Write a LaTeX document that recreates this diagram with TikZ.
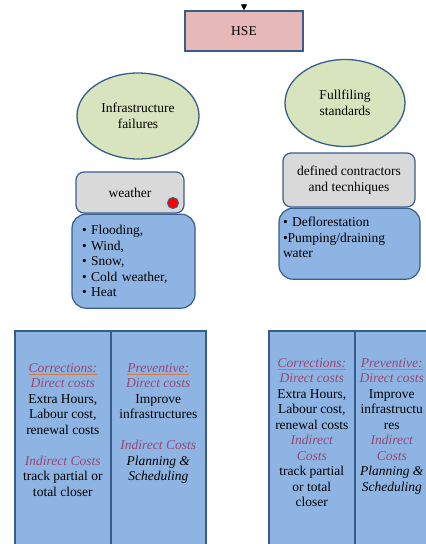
\documentclass[tikz,border=0pt]{standalone}
\usepackage{fontspec}
\setmainfont{Liberation Serif}
\usepackage{xcolor}
\usepackage{tikz}
\usetikzlibrary{arrows.meta, positioning, shapes.geometric}

\definecolor{hsepink}{RGB}{230,185,184}
\definecolor{edgeblue}{RGB}{56,93,138}
\definecolor{oliveleaf}{RGB}{215,228,189}
\definecolor{cardgrey}{RGB}{217,217,217}
\definecolor{listblue}{RGB}{142,180,227}
\definecolor{costmauve}{RGB}{150,72,115}
\definecolor{ulorange}{RGB}{220,120,60}

\newsavebox{\headbox}
\newcommand{\ulhead}[1]{{\sbox{\headbox}{\itshape\color{costmauve}#1}%
  \rlap{\color{ulorange}\rule[-2.5pt]{\wd\headbox}{0.7pt}}\usebox{\headbox}}}
\newcommand{\costlabel}[1]{{\itshape\color{costmauve}#1}}

\begin{document}
\begin{tikzpicture}[
  x = 1pt, y = -1pt,
  font           = \fontsize{13.5}{15.5}\selectfont,
  hsebox/.style  = {draw=edgeblue, line width=1.2pt, fill=hsepink,
                    minimum width=118pt, minimum height=40pt},
  oval/.style    = {ellipse, draw=edgeblue, line width=1.3pt, fill=oliveleaf,
                    inner sep=0pt, align=center},
  greycard/.style= {draw=edgeblue, line width=1.2pt, fill=cardgrey,
                    rounded corners=8pt, inner sep=0pt, align=center},
  listcard/.style= {draw=edgeblue, line width=1.2pt, fill=listblue,
                    rounded corners=14pt, inner ysep=0pt, align=left},
  column/.style  = {draw=edgeblue, line width=1.6pt, fill=listblue,
                    inner sep=0pt, anchor=north west, minimum height=232pt},
  costs/.style   = {align=center, inner sep=0pt},
  arrow/.style   = {-{Triangle[width=6pt, length=6pt]}, line width=1pt}
]
\useasboundingbox (0,0) rectangle (426,544);

% ── Top ──────────────────────────────────────────────────────────────────────
\node[hsebox] (hse) at (244,31) {HSE};
\coordinate (feed) at (244,4);
\draw[arrow] (feed) -- (hse.north);

% ── Left branch ──────────────────────────────────────────────────────────────
\node[oval, minimum width=122pt, minimum height=86pt] (infra) at (138,116)
  {Infrastructure\\failures};
\node[greycard, minimum width=108pt, minimum height=41pt] (weather) at (130,192.5)
  {weather};
\node[listcard, below=0pt of weather, xshift=3.5pt, text width=103pt,
      inner xsep=10pt, minimum height=94pt] (hazards)
  {\textbullet{} Flooding,\\ \textbullet{} Wind,\\ \textbullet{} Snow,\\
   \textbullet{} Cold weather,\\ \textbullet{} Heat};
\node[circle, draw=edgeblue, line width=1pt, fill=red, minimum size=11pt,
      inner sep=0pt] (alert) at (173,203) {};

% ── Right branch ─────────────────────────────────────────────────────────────
\node[oval, minimum width=120pt, minimum height=87pt] (fulfil) at (345,103)
  {Fullfiling\\standards};
\node[greycard, minimum width=132pt, minimum height=54pt] (contract) at (349,180)
  {defined contractors\\and tecnhiques};
\node[listcard, below=0pt of contract, xshift=0.5pt, text width=133pt,
      inner xsep=4pt, minimum height=71pt] (works)
  {\textbullet{} Deflorestation\\ \textbullet Pumping/draining\\ water\\[-3.5pt]\mbox{}};

% ── Cost columns ─────────────────────────────────────────────────────────────
\begin{scope}
\clip (0,0) rectangle (426,544);
\node[column, minimum width=96pt] (corrL) at (14,330) {};
\node[column, minimum width=95pt] (prevL) at (110,330) {};
\node[column, minimum width=86pt] (corrR) at (268,330) {};
\node[column, minimum width=86pt] (prevR) at (354,330) {};

\node[costs, below=33pt of corrL.north] (corrLtext)
  {\ulhead{Corrections:}\\ \costlabel{Direct costs}\\ Extra Hours,\\
   Labour cost,\\ renewal costs\\[15.5pt] \costlabel{Indirect Costs}\\
   track partial or\\ total closer};
\node[costs, below=33pt of prevL.north] (prevLtext)
  {\ulhead{Preventive:}\\ \costlabel{Direct costs}\\ Improve\\
   infrastructures\\[15.5pt] \costlabel{Indirect Costs}\\
   \textit{Planning \&}\\ \textit{Scheduling}};
\node[costs, below=28pt of corrR.north] (corrRtext)
  {\ulhead{Corrections:}\\ \costlabel{Direct costs}\\ Extra Hours,\\
   Labour cost,\\ renewal costs\\ \costlabel{Indirect}\\ \costlabel{Costs}\\
   track partial\\ or total\\ closer};
\node[costs, below=28pt of prevR.north, xshift=-6pt] (prevRtext)
  {\ulhead{Preventive:}\\ \costlabel{Direct costs}\\ Improve\\ infrastructu\\
   res\\ \costlabel{Indirect}\\ \costlabel{Costs}\\ \textit{Planning \&}\\
   \textit{Scheduling}};
\end{scope}

\end{tikzpicture}
\end{document}
